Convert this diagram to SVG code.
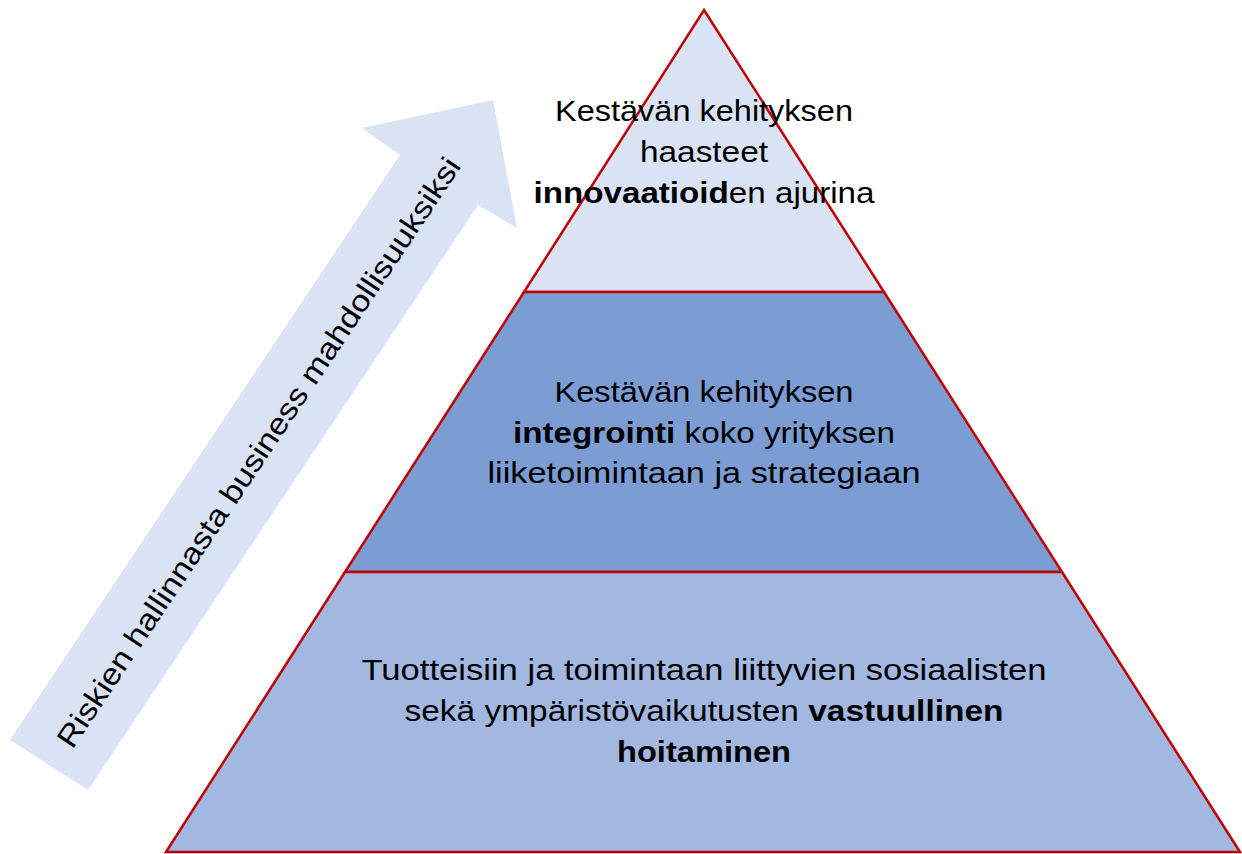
<svg xmlns="http://www.w3.org/2000/svg" width="1242" height="854" viewBox="0 0 1242 854">
<style>
.t{font-family:"Liberation Sans",Arial,sans-serif;font-size:30px;fill:#000;text-anchor:middle}
.b{font-weight:bold}
.lvl{stroke:#C00000;stroke-width:2.5;stroke-linejoin:miter}
</style>
<rect width="1242" height="854" fill="#fff"/>
<g id="arrow">
<polygon points="10,740 400,155 362,128 493,100 517,228 478,205 88,790" fill="#DAE3F3"/>
<text class="t" transform="translate(258,452) rotate(-56.3)" x="0" y="11" textLength="702" lengthAdjust="spacingAndGlyphs">Riskien hallinnasta business mahdollisuuksiksi</text>
</g>
<g id="level-top">
<polygon class="lvl" points="704,10 884,292 524,292" fill="#DAE3F3"/>
<text class="t" x="704" y="121" textLength="298" lengthAdjust="spacingAndGlyphs">Kestävän kehityksen</text>
<text class="t" x="704" y="162" textLength="128" lengthAdjust="spacingAndGlyphs">haasteet</text>
<text class="t" x="704" y="203" textLength="341" lengthAdjust="spacingAndGlyphs"><tspan class="b">innovaatioid</tspan>en ajurina</text>
</g>
<g id="level-middle">
<polygon class="lvl" points="524,292 884,292 1062,572 345,572" fill="#7C9DD4"/>
<text class="t" x="704" y="402" textLength="299" lengthAdjust="spacingAndGlyphs">Kestävän kehityksen</text>
<text class="t" x="704" y="443" textLength="382" lengthAdjust="spacingAndGlyphs"><tspan class="b">integrointi</tspan> koko yrityksen</text>
<text class="t" x="704" y="483" textLength="433" lengthAdjust="spacingAndGlyphs">liiketoimintaan ja strategiaan</text>
</g>
<g id="level-bottom">
<polygon class="lvl" points="345,572 1062,572 1240,852 166,852" fill="#A2B8E0"/>
<text class="t" x="704" y="680" textLength="685" lengthAdjust="spacingAndGlyphs">Tuotteisiin ja toimintaan liittyvien sosiaalisten</text>
<text class="t" x="704" y="721" textLength="599" lengthAdjust="spacingAndGlyphs">sekä ympäristövaikutusten <tspan class="b">vastuullinen</tspan></text>
<text class="t" x="704" y="762" font-weight="bold" textLength="174" lengthAdjust="spacingAndGlyphs">hoitaminen</text>
</g>
<g id="connectors"/>
</svg>
